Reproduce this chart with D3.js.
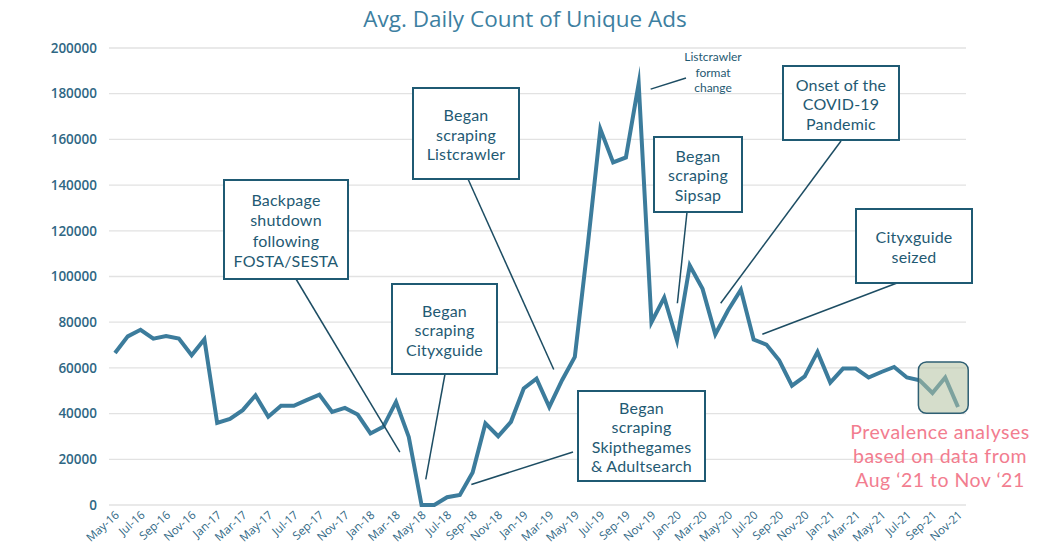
<!DOCTYPE html>
<html><head><meta charset="utf-8">
<script src="https://cdn.jsdelivr.net/npm/d3@7"></script>
<style>body{margin:0;background:#fff;}svg{display:block;}</style>
</head><body>
<svg id="c" width="1038" height="550"></svg>
<script>
const months = ["May-16","Jun-16","Jul-16","Aug-16","Sep-16","Oct-16","Nov-16","Dec-16",
"Jan-17","Feb-17","Mar-17","Apr-17","May-17","Jun-17","Jul-17","Aug-17","Sep-17","Oct-17","Nov-17","Dec-17",
"Jan-18","Feb-18","Mar-18","Apr-18","May-18","Jun-18","Jul-18","Aug-18","Sep-18","Oct-18","Nov-18","Dec-18",
"Jan-19","Feb-19","Mar-19","Apr-19","May-19","Jun-19","Jul-19","Aug-19","Sep-19","Oct-19","Nov-19","Dec-19",
"Jan-20","Feb-20","Mar-20","Apr-20","May-20","Jun-20","Jul-20","Aug-20","Sep-20","Oct-20","Nov-20","Dec-20",
"Jan-21","Feb-21","Mar-21","Apr-21","May-21","Jun-21","Jul-21","Aug-21","Sep-21","Oct-21","Nov-21"];
const adCounts = [66500,73800,76700,72800,73900,72800,65500,72500,
35900,37700,41500,48000,38600,43400,43400,45900,48300,40700,42500,39600,
31300,34200,45100,29800,0,0,3400,4400,14200,35700,30100,36400,
51000,55300,42900,54600,64800,113000,164500,149900,152100,184400,80000,90800,
72000,104800,94600,74700,85200,94200,72400,70200,63300,52200,56300,67000,
53600,59700,59700,55800,58200,60400,55800,54600,49000,55800,42900];
const yTicks = [0,20000,40000,60000,80000,100000,120000,140000,160000,180000,200000];
const xTickLabels = months.filter((m,i)=>i%2===0);
const titleText = "Avg. Daily Count of Unique Ads";
const noteLines = ["Prevalence analyses","based on data from","Aug \u201821 to Nov \u201821"];
const highlightRange = {from:62.9, to:66.8, hi:62600, lo:40100};

// annotation layout: box in pixels, leader start in pixels, leader target in data space (month index, value)
const annotations = [
  {lines:["Backpage","shutdown","following","FOSTA/SESTA"], box:[224,180,124,99], cy:[200,220.5,241,261.5], from:[296,279], to:[22.3,23100]},
  {lines:["Began","scraping","Cityxguide"], box:[392,284,105,90], cy:[311,330.5,350], from:[445,374], to:[24.33,11200]},
  {lines:["Began","scraping","Listcrawler"], box:[413,88,106,91], cy:[115.5,135,154.5], from:[468,179], to:[34.35,59300]},
  {lines:["Began","scraping","Skipthegames","& Adultsearch"], box:[578,391,127,90], cy:[408,427.5,447,466.5], from:[573,452], to:[27.9,9000]},
  {lines:["Began","scraping","Sipsap"], box:[654,137,88,75], cy:[156,175.5,195], from:[687,212], to:[44.03,88300]},
  {lines:["Onset of the","COVID-19","Pandemic"], box:[783,66,116,74], cy:[85,104.5,124], from:[841,141], to:[47.42,88300]},
  {lines:["Cityxguide","seized"], box:[856,209,116,74], cy:[237.5,257], from:[897,283], to:[50.68,74700]},
  {lines:["Listcrawler","format","change"], box:null, cy:[57,72.5,88], cx:713, small:true, from:[686,78], to:[41.94,182000]}
];

const svg = d3.select("#c");
const x = d3.scaleLinear().domain([0, months.length-1]).range([115, 958]);
const y = d3.scaleLinear().domain([0, 200000]).range([505, 48]);
const font = "'Open Sans', sans-serif";
const annFont = "Lato, 'Open Sans', sans-serif";
const tickColor = "#2f6784";
const boxColor = "#1f5a73";

// gridlines + y labels
const yg = svg.append("g");
yg.selectAll("line").data(yTicks).join("line")
  .attr("x1",109).attr("x2",966)
  .attr("y1",d=>y(d)).attr("y2",d=>y(d))
  .attr("stroke","#e2e2e2").attr("stroke-width",1.3);
yg.selectAll("text").data(yTicks).join("text")
  .attr("x",97).attr("y",d=>y(d)).attr("dy","0.35em")
  .attr("text-anchor","end")
  .attr("font-family",font).attr("font-size",13.5).attr("font-weight",600)
  .attr("fill",tickColor).text(d=>d);

// x labels
const xg = svg.append("g");
xg.selectAll("text").data(xTickLabels).join("text")
  .attr("transform",d=>`translate(${x(months.indexOf(d))+5},${516}) rotate(-42)`)
  .attr("text-anchor","end")
  .attr("font-family",font).attr("font-size",11.5)
  .attr("fill",tickColor).text(d=>d);

// title
svg.append("text").attr("x",525).attr("y",27).attr("text-anchor","middle")
  .attr("font-family",font).attr("font-size",22.5).attr("fill","#3d7fa1").text(titleText);

// line
const line = d3.line().x((d,i)=>x(i)).y(d=>y(d)).curve(d3.curveLinear);
svg.append("path").datum(adCounts).attr("d",line)
  .attr("fill","none").attr("stroke","#3c7c9c").attr("stroke-width",4)
  .attr("stroke-linejoin","miter").attr("stroke-miterlimit",10);

// highlight box
svg.append("rect")
  .attr("x",x(highlightRange.from)).attr("y",y(highlightRange.hi))
  .attr("width",x(highlightRange.to)-x(highlightRange.from))
  .attr("height",y(highlightRange.lo)-y(highlightRange.hi))
  .attr("rx",8).attr("fill","#b3c1a0").attr("fill-opacity",0.55)
  .attr("stroke","#2e5f73").attr("stroke-width",1.5);

// annotations
const ag = svg.append("g");
annotations.forEach(a=>{
  ag.append("line").attr("x1",a.from[0]).attr("y1",a.from[1])
    .attr("x2",x(a.to[0])).attr("y2",y(a.to[1]))
    .attr("stroke","#1d4d63").attr("stroke-width",1.5);
  let cx;
  if(a.box){
    ag.append("rect").attr("x",a.box[0]).attr("y",a.box[1]).attr("width",a.box[2]).attr("height",a.box[3])
      .attr("fill","#fff").attr("stroke",boxColor).attr("stroke-width",2);
    cx = a.box[0]+a.box[2]/2;
  } else cx = a.cx;
  a.lines.forEach((t,i)=>{
    ag.append("text").attr("x",cx).attr("y",a.cy[i]).attr("dy","0.35em")
      .attr("text-anchor","middle").attr("font-family",annFont)
      .attr("font-size",a.small?12:16).attr("letter-spacing",a.small?0:0.2)
      .attr("fill",boxColor).text(t);
  });
});

// pink note
noteLines.forEach((t,i)=>{
  svg.append("text").attr("x",940).attr("y",432+i*24).attr("dy","0.35em")
    .attr("text-anchor","middle").attr("font-family",annFont).attr("font-size",19.5)
    .attr("letter-spacing",0.5)
    .attr("fill","#f27d8f").text(t);
});
</script>
</body></html>
